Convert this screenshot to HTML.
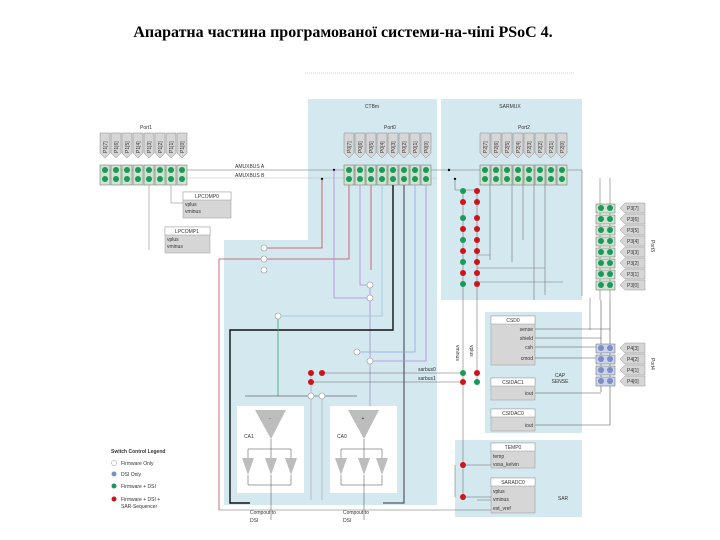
<!DOCTYPE html>
<html><head><meta charset="utf-8"><style>
body{margin:0;background:#fff;width:720px;height:540px;overflow:hidden}
svg{display:block}
text{font-family:"Liberation Sans",sans-serif;fill:#333}
.pl{font-size:5px}
</style></head><body>
<svg width="720" height="540" viewBox="0 0 720 540">
<text x="343" y="37" text-anchor="middle" style="font-family:'Liberation Serif',serif;font-size:16px;font-weight:bold;fill:#000">Апаратна частина програмованої системи-на-чіпі PSoC 4.</text>
<line x1="305" y1="73" x2="575" y2="73" stroke="#ccc" stroke-dasharray="1,1"/>
<g fill="#d3e8ef">
<path d="M308 99H437V505H224V240H308Z"/>
<rect x="441" y="99" width="141" height="201"/>
<rect x="485" y="312" width="97" height="121"/>
<rect x="455" y="440" width="127" height="77"/>
</g>
<text x="372" y="108" class="pl" text-anchor="middle">CTBm</text>
<text x="510" y="108" class="pl" text-anchor="middle">SARMUX</text>
<text x="146" y="129" class="pl" text-anchor="middle">Port1</text>
<text x="390" y="129" class="pl" text-anchor="middle">Port0</text>
<text x="524" y="129" class="pl" text-anchor="middle">Port2</text>
<line x1="100" y1="170" x2="582" y2="170" stroke="#999" stroke-width=".7"/>
<line x1="100" y1="178" x2="437" y2="178" stroke="#bbb" stroke-width=".5"/>
<text x="235" y="168" class="pl">AMUXBUS A</text>
<text x="235" y="177" class="pl">AMUXBUS B</text>
<circle cx="334" cy="170" r="1.2" fill="#000"/><circle cx="322" cy="179" r="1.2" fill="#000"/>
<circle cx="449" cy="170" r="1.2" fill="#000"/><circle cx="455" cy="179" r="1.2" fill="#000"/>
<g id="pins">
<g fill="#d6d6d6" stroke="#888" stroke-width=".5">
<path d="M100 133h10v20l-5 5l-5-5z"/><path d="M111 133h10v20l-5 5l-5-5z"/><path d="M122 133h10v20l-5 5l-5-5z"/><path d="M133 133h10v20l-5 5l-5-5z"/><path d="M144 133h10v20l-5 5l-5-5z"/><path d="M155 133h10v20l-5 5l-5-5z"/><path d="M166 133h10v20l-5 5l-5-5z"/><path d="M177 133h10v20l-5 5l-5-5z"/>
</g>
<g fill="#cfe3cf" stroke="#666" stroke-width=".5">
<rect x="100" y="165" width="10" height="20"/><rect x="111" y="165" width="10" height="20"/><rect x="122" y="165" width="10" height="20"/><rect x="133" y="165" width="10" height="20"/><rect x="144" y="165" width="10" height="20"/><rect x="155" y="165" width="10" height="20"/><rect x="166" y="165" width="10" height="20"/><rect x="177" y="165" width="10" height="20"/>
</g>
<g fill="#1a9a5a">
<circle cx="105" cy="170" r="3"/><circle cx="105" cy="179" r="3"/><circle cx="116" cy="170" r="3"/><circle cx="116" cy="179" r="3"/><circle cx="127" cy="170" r="3"/><circle cx="127" cy="179" r="3"/><circle cx="138" cy="170" r="3"/><circle cx="138" cy="179" r="3"/><circle cx="149" cy="170" r="3"/><circle cx="149" cy="179" r="3"/><circle cx="160" cy="170" r="3"/><circle cx="160" cy="179" r="3"/><circle cx="171" cy="170" r="3"/><circle cx="171" cy="179" r="3"/><circle cx="182" cy="170" r="3"/><circle cx="182" cy="179" r="3"/>
</g>
</g>
<use href="#pins" transform="translate(244,0)"/>
<use href="#pins" transform="translate(380,0)"/>
<g transform="rotate(-90)">
<text x="-153" y="107" style="font-size:5px">P1[7]</text><text x="-153" y="118" style="font-size:5px">P1[6]</text><text x="-153" y="129" style="font-size:5px">P1[5]</text><text x="-153" y="140" style="font-size:5px">P1[4]</text><text x="-153" y="151" style="font-size:5px">P1[3]</text><text x="-153" y="162" style="font-size:5px">P1[2]</text><text x="-153" y="173" style="font-size:5px">P1[1]</text><text x="-153" y="184" style="font-size:5px">P1[0]</text>
<text x="-153" y="351" style="font-size:5px">P0[7]</text><text x="-153" y="362" style="font-size:5px">P0[6]</text><text x="-153" y="373" style="font-size:5px">P0[5]</text><text x="-153" y="384" style="font-size:5px">P0[4]</text><text x="-153" y="395" style="font-size:5px">P0[3]</text><text x="-153" y="406" style="font-size:5px">P0[2]</text><text x="-153" y="417" style="font-size:5px">P0[1]</text><text x="-153" y="428" style="font-size:5px">P0[0]</text>
<text x="-153" y="487" style="font-size:5px">P2[7]</text><text x="-153" y="498" style="font-size:5px">P2[6]</text><text x="-153" y="509" style="font-size:5px">P2[5]</text><text x="-153" y="520" style="font-size:5px">P2[4]</text><text x="-153" y="531" style="font-size:5px">P2[3]</text><text x="-153" y="542" style="font-size:5px">P2[2]</text><text x="-153" y="553" style="font-size:5px">P2[1]</text><text x="-153" y="564" style="font-size:5px">P2[0]</text>
</g>
<rect x="183" y="192" width="48" height="26" fill="#d6d6d6" stroke="#999" stroke-width=".5"/><rect x="183" y="192" width="48" height="8" fill="#fff" stroke="#999" stroke-width=".5"/>
<text x="207" y="198" class="pl" text-anchor="middle">LPCOMP0</text><text x="185" y="206" class="pl">vplus</text><text x="185" y="213" class="pl">vminus</text>
<rect x="165" y="227" width="45" height="26" fill="#d6d6d6" stroke="#999" stroke-width=".5"/><rect x="165" y="227" width="45" height="8" fill="#fff" stroke="#999" stroke-width=".5"/>
<text x="187" y="233" class="pl" text-anchor="middle">LPCOMP1</text><text x="167" y="241" class="pl">vplus</text><text x="167" y="248" class="pl">vminus</text>
<g stroke="#777" stroke-width=".5" fill="none"><path d="M171 185V203H183"/><path d="M149 185V250"/></g>
<g fill="none" stroke-width=".8">
<path d="M264 248H322V179" stroke="#c84a55"/>
<path d="M219 510V259H349V185" stroke="#c84a55"/>
<path d="M371 185V270" stroke="#c84a55"/>
<path d="M360 185V285H370" stroke="#b48ad6"/>
<path d="M334 170V298H370" stroke="#b48ad6"/>
<path d="M370 285V410" stroke="#b48ad6"/>
<path d="M382 185V316H278" stroke="#9cc6d6"/>
<path d="M393 185V330H230V503H250" stroke="#111" stroke-width="1.4"/>
<path d="M404 185V503H383" stroke="#556" stroke-width="1.2"/>
<path d="M415 185V352H357" stroke="#8fa6e0"/>
<path d="M426 185V361H370" stroke="#b48ad6"/>
<path d="M278 316V396" stroke="#3aa071"/>
<path d="M245 396H357" stroke="#333" stroke-width=".5"/>
<path d="M322 373H463M311 382H463" stroke="#666" stroke-width=".6"/>
<path d="M311 373V500M322 396V500" stroke="#999" stroke-width=".5"/>
</g>
<g fill="#fff" stroke="#999" stroke-width=".6">
<circle cx="264" cy="248" r="3"/><circle cx="264" cy="259" r="3"/><circle cx="264" cy="270" r="3"/><circle cx="370" cy="285" r="3"/><circle cx="370" cy="298" r="3"/><circle cx="278" cy="316" r="3"/><circle cx="357" cy="352" r="3"/><circle cx="370" cy="361" r="3"/><circle cx="311" cy="396" r="3"/><circle cx="322" cy="396" r="3"/>
</g>
<g fill="#d0121b"><circle cx="311" cy="373" r="3"/><circle cx="322" cy="373" r="3"/><circle cx="311" cy="382" r="3"/></g>
<text x="418" y="371" class="pl">sarbus0</text><text x="418" y="380" class="pl">sarbus1</text>
<rect x="237" y="406" width="67" height="87" fill="#fff"/><rect x="330" y="406" width="67" height="87" fill="#fff"/>
<g fill="#bdbdbd">
<path d="M255 410h31l-15 29z"/><path d="M348 410h31l-15 29z"/>
<path d="M242 458h12l-6 17z"/><path d="M265 458h12l-6 17z"/><path d="M285 458h12l-6 17z"/>
<path d="M335 458h12l-6 17z"/><path d="M358 458h12l-6 17z"/><path d="M376 458h12l-6 17z"/>
</g>
<g stroke="#444" stroke-width=".5" fill="none">
<path d="M271 439V458M248 449H291V458M248 449V458M271 475V520M248 475V485H291V475"/>
<path d="M364 439V458M341 449H382V458M341 449V458M364 475V520M341 475V485H382V475"/>
</g>
<text x="244" y="438" class="pl">CA1</text><text x="337" y="438" class="pl">CA0</text>
<text x="270" y="420" class="pl" text-anchor="middle">-</text><text x="363" y="420" class="pl" text-anchor="middle">+</text>
<text x="250" y="514" class="pl">Compout to</text><text x="250" y="522" class="pl">DSI</text>
<text x="343" y="514" class="pl">Compout to</text><text x="343" y="522" class="pl">DSI</text>
<g stroke="#777" stroke-width=".6" fill="none">
<path d="M463 190V500M477 190V382M455 179V190H477"/>
<path d="M490 185V260M512 185V262M534 185V300M523 185V240M545 185V295"/>
<path d="M477 255H490M477 268H545M477 282H563M582 170V296"/>
</g>
<g fill="#1a9a5a"><circle cx="463" cy="191" r="3"/><circle cx="463" cy="218" r="3"/><circle cx="463" cy="240" r="3"/><circle cx="463" cy="262" r="3"/><circle cx="463" cy="284" r="3"/><circle cx="463" cy="373" r="3"/><circle cx="477" cy="382" r="3"/></g>
<g fill="#d0121b"><circle cx="477" cy="191" r="3"/><circle cx="463" cy="202" r="3"/><circle cx="477" cy="202" r="3"/><circle cx="477" cy="218" r="3"/><circle cx="463" cy="229" r="3"/><circle cx="477" cy="229" r="3"/><circle cx="477" cy="240" r="3"/><circle cx="463" cy="251" r="3"/><circle cx="477" cy="251" r="3"/><circle cx="477" cy="262" r="3"/><circle cx="463" cy="273" r="3"/><circle cx="477" cy="273" r="3"/><circle cx="477" cy="284" r="3"/><circle cx="477" cy="373" r="3"/><circle cx="463" cy="382" r="3"/><circle cx="463" cy="465" r="3"/><circle cx="463" cy="497" r="3"/></g>
<text transform="translate(456,345) rotate(90)" class="pl">vminus</text><text transform="translate(470,345) rotate(90)" class="pl">vplus</text>
<g stroke="#777" stroke-width=".6" fill="none"><path d="M600 178V300M610 178V300M590 298V330"/></g>
<g fill="#cfe3cf" stroke="#666" stroke-width=".5">
<rect x="596" y="204" width="19" height="9"/><rect x="596" y="215" width="19" height="9"/><rect x="596" y="226" width="19" height="9"/><rect x="596" y="237" width="19" height="9"/><rect x="596" y="248" width="19" height="9"/><rect x="596" y="259" width="19" height="9"/><rect x="596" y="270" width="19" height="9"/><rect x="596" y="281" width="19" height="9"/>
</g>
<g fill="#1a9a5a"><circle cx="601" cy="208" r="3"/><circle cx="610" cy="208" r="3"/><circle cx="601" cy="219" r="3"/><circle cx="610" cy="219" r="3"/><circle cx="601" cy="230" r="3"/><circle cx="610" cy="230" r="3"/><circle cx="601" cy="241" r="3"/><circle cx="610" cy="241" r="3"/><circle cx="601" cy="252" r="3"/><circle cx="610" cy="252" r="3"/><circle cx="601" cy="263" r="3"/><circle cx="610" cy="263" r="3"/><circle cx="601" cy="274" r="3"/><circle cx="610" cy="274" r="3"/><circle cx="601" cy="285" r="3"/><circle cx="610" cy="285" r="3"/></g>
<g fill="#d6d6d6" stroke="#999" stroke-width=".5">
<path d="M625 203h20v10h-20l-5-5z"/><path d="M625 214h20v10h-20l-5-5z"/><path d="M625 225h20v10h-20l-5-5z"/><path d="M625 236h20v10h-20l-5-5z"/><path d="M625 247h20v10h-20l-5-5z"/><path d="M625 258h20v10h-20l-5-5z"/><path d="M625 269h20v10h-20l-5-5z"/><path d="M625 280h20v10h-20l-5-5z"/>
<path d="M625 343h20v10h-20l-5-5z"/><path d="M625 354h20v10h-20l-5-5z"/><path d="M625 365h20v10h-20l-5-5z"/><path d="M625 376h20v10h-20l-5-5z"/>
</g>
<g><text x="627" y="210" class="pl">P3[7]</text><text x="627" y="221" class="pl">P3[6]</text><text x="627" y="232" class="pl">P3[5]</text><text x="627" y="243" class="pl">P3[4]</text><text x="627" y="254" class="pl">P3[3]</text><text x="627" y="265" class="pl">P3[2]</text><text x="627" y="276" class="pl">P3[1]</text><text x="627" y="287" class="pl">P3[0]</text>
<text x="627" y="350" class="pl">P4[3]</text><text x="627" y="361" class="pl">P4[2]</text><text x="627" y="372" class="pl">P4[1]</text><text x="627" y="383" class="pl">P4[0]</text></g>
<text transform="translate(651,240) rotate(90)" class="pl">Port3</text><text transform="translate(651,358) rotate(90)" class="pl">Port4</text>
<g stroke="#555" stroke-width=".6" fill="none"><path d="M601 300V392M610 300V425"/>
<path d="M535 329H610M535 338H601M515 347H596M510 358H596M535 393H601M535 425H610"/></g>
<g fill="#c9d3ea" stroke="#666" stroke-width=".5"><rect x="596" y="344" width="19" height="9"/><rect x="596" y="355" width="19" height="9"/><rect x="596" y="366" width="19" height="9"/><rect x="596" y="377" width="19" height="9"/></g>
<g fill="#7b8fc6"><circle cx="601" cy="348" r="3"/><circle cx="610" cy="348" r="3"/><circle cx="601" cy="359" r="3"/><circle cx="610" cy="359" r="3"/><circle cx="601" cy="370" r="3"/><circle cx="610" cy="370" r="3"/><circle cx="601" cy="381" r="3"/><circle cx="610" cy="381" r="3"/></g>
<g fill="#d6d6d6" stroke="#999" stroke-width=".5">
<rect x="491" y="316" width="44" height="49"/><rect x="491" y="378" width="44" height="22"/><rect x="491" y="409" width="44" height="22"/>
<rect x="491" y="443" width="44" height="25"/><rect x="491" y="478" width="44" height="35"/>
</g>
<g fill="#fff" stroke="#999" stroke-width=".5"><rect x="491" y="316" width="44" height="8"/><rect x="491" y="378" width="44" height="8"/><rect x="491" y="409" width="44" height="8"/><rect x="491" y="443" width="44" height="8"/><rect x="491" y="478" width="44" height="8"/></g>
<text x="513" y="322" class="pl" text-anchor="middle">CSD0</text><text x="513" y="384" class="pl" text-anchor="middle">CSIDAC1</text><text x="513" y="415" class="pl" text-anchor="middle">CSIDAC0</text>
<text x="533" y="331" class="pl" text-anchor="end">sense</text><text x="533" y="340" class="pl" text-anchor="end">shield</text><text x="533" y="349" class="pl" text-anchor="end">csh</text><text x="533" y="360" class="pl" text-anchor="end">cmod</text>
<text x="533" y="395" class="pl" text-anchor="end">iout</text><text x="533" y="427" class="pl" text-anchor="end">iout</text>
<text x="560" y="377" class="pl" text-anchor="middle">CAP</text><text x="560" y="383" class="pl" text-anchor="middle">SENSE</text>
<text x="513" y="449" class="pl" text-anchor="middle">TEMP0</text><text x="493" y="458" class="pl">temp</text><text x="493" y="466" class="pl">vssa_kelvin</text>
<text x="513" y="484" class="pl" text-anchor="middle">SARADC0</text><text x="493" y="493" class="pl">vplus</text><text x="493" y="501" class="pl">vminus</text><text x="493" y="510" class="pl">ext_vref</text>
<text x="563" y="500" class="pl" text-anchor="middle">SAR</text>
<g stroke="#666" stroke-width=".5" fill="none"><path d="M463 465H491M463 497H491M455 465V497M219 510H491M477 500H491"/></g>
<text x="111" y="453" style="font-size:5px;font-weight:bold">Switch Control Legend</text>
<circle cx="114" cy="463" r="2.5" fill="#fff" stroke="#999" stroke-width=".5"/><text x="121" y="465" class="pl">Firmware Only</text>
<circle cx="114" cy="474" r="2.5" fill="#7b8fc6"/><text x="121" y="476" class="pl">DSI Only</text>
<circle cx="114" cy="486" r="2.5" fill="#1a9a5a"/><text x="121" y="488" class="pl">Firmware + DSI</text>
<circle cx="114" cy="499" r="2.5" fill="#d0121b"/><text x="121" y="501" class="pl">Firmware + DSI +</text><text x="121" y="508" class="pl">SAR-Sequencer</text>
</svg>
</body></html>
